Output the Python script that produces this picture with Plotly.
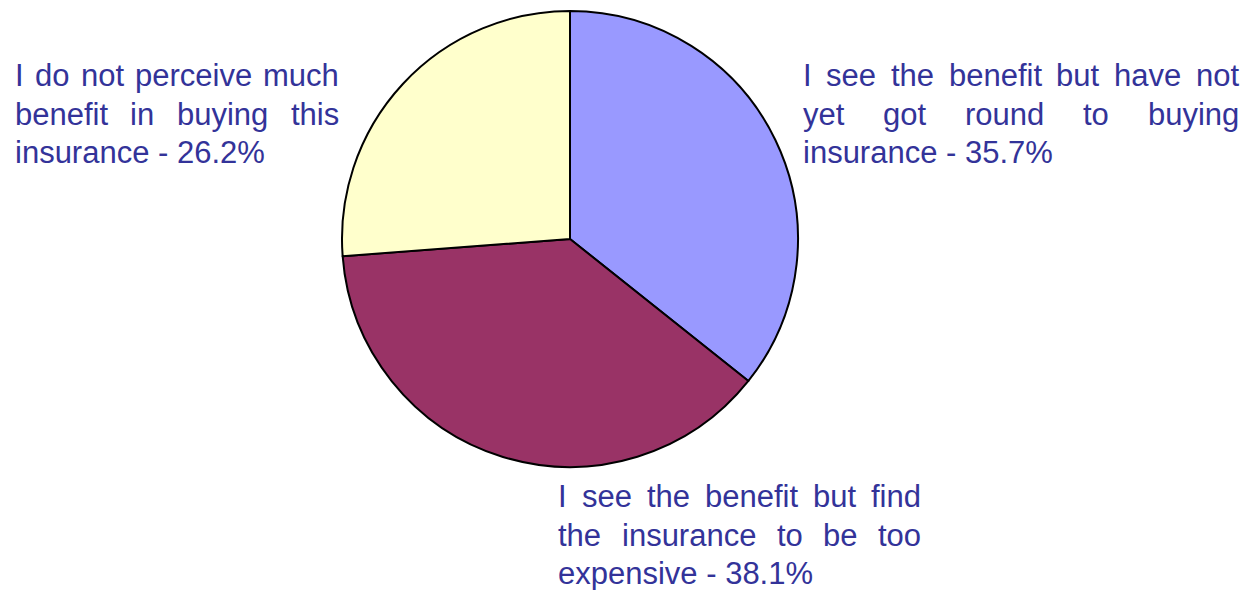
import plotly.graph_objects as go

# ---- data ----
categories = [
    "I see the benefit but have not yet got round to buying insurance",
    "I see the benefit but find the insurance to be too expensive",
    "I do not perceive much benefit in buying this insurance",
]
values = [35.7, 38.1, 26.2]
colors = ["#9999FF", "#993366", "#FFFFCC"]
# line breaks of each label as printed (word counts per line)
line_words = [[7, 5], [6, 5], [5, 4]]

W, H = 1247, 590
FS = 31
TXT = "#333399"
FONT = "Liberation Sans, Arial, sans-serif"

# label block boxes: (left, right, first baseline) in pixels
blocks = [(802, 1238, 86), (557, 920, 507), (14, 338, 86)]
LINE_H = 38.5

# Arial / Liberation Sans advance widths (1/1000 em)
AW = dict(a=556, b=556, c=500, d=556, e=556, f=278, g=556, h=556, i=222, j=222,
          k=500, l=222, m=833, n=556, o=556, p=556, q=556, r=333, s=500, t=278,
          u=556, v=500, w=722, x=500, y=500, z=500, I=278)
AW.update({" ": 278, "-": 333, ".": 278, "%": 889})
for dch in "0123456789":
    AW[dch] = 556


def wwidth(s):
    return sum(AW.get(ch, 556) for ch in s) * FS / 1000.0


fig = go.Figure()
R = 228
fig.add_trace(go.Pie(
    labels=categories,
    values=values,
    marker=dict(colors=colors, line=dict(color="black", width=2)),
    sort=False,
    direction="clockwise",
    rotation=0,
    textinfo="none",
    hoverinfo="label+percent",
    showlegend=False,
    domain=dict(x=[(570 - R) / W, (570 + R) / W],
                y=[(H - 239 - R) / H, (H - 239 + R) / H]),
))

annotations = []
for cat, val, counts, (xl, xr, base) in zip(categories, values, line_words, blocks):
    words = cat.split(" ")
    lines = []
    k = 0
    for c in counts:
        lines.append(words[k:k + c])
        k += c
    lines.append(words[k:] + ["-", f"{val:.1f}%"])
    for li, lw in enumerate(lines):
        y_mid = base + li * LINE_H - 0.33 * FS
        last = li == len(lines) - 1
        if last:
            annotations.append(dict(
                x=xl / W, y=1 - y_mid / H, xref="paper", yref="paper",
                xanchor="left", yanchor="middle", showarrow=False,
                text=" ".join(lw), font=dict(size=FS, color=TXT, family=FONT),
                borderpad=0))
        else:
            total = sum(wwidth(w) for w in lw)
            gap = (xr - xl - total) / (len(lw) - 1)
            x = xl
            for w in lw:
                annotations.append(dict(
                    x=x / W, y=1 - y_mid / H, xref="paper", yref="paper",
                    xanchor="left", yanchor="middle", showarrow=False,
                    text=w, font=dict(size=FS, color=TXT, family=FONT),
                    borderpad=0))
                x += wwidth(w) + gap

fig.update_layout(
    width=W, height=H,
    margin=dict(l=0, r=0, t=0, b=0),
    paper_bgcolor="white", plot_bgcolor="white",
    annotations=annotations,
)

fig.write_html("out.html")
